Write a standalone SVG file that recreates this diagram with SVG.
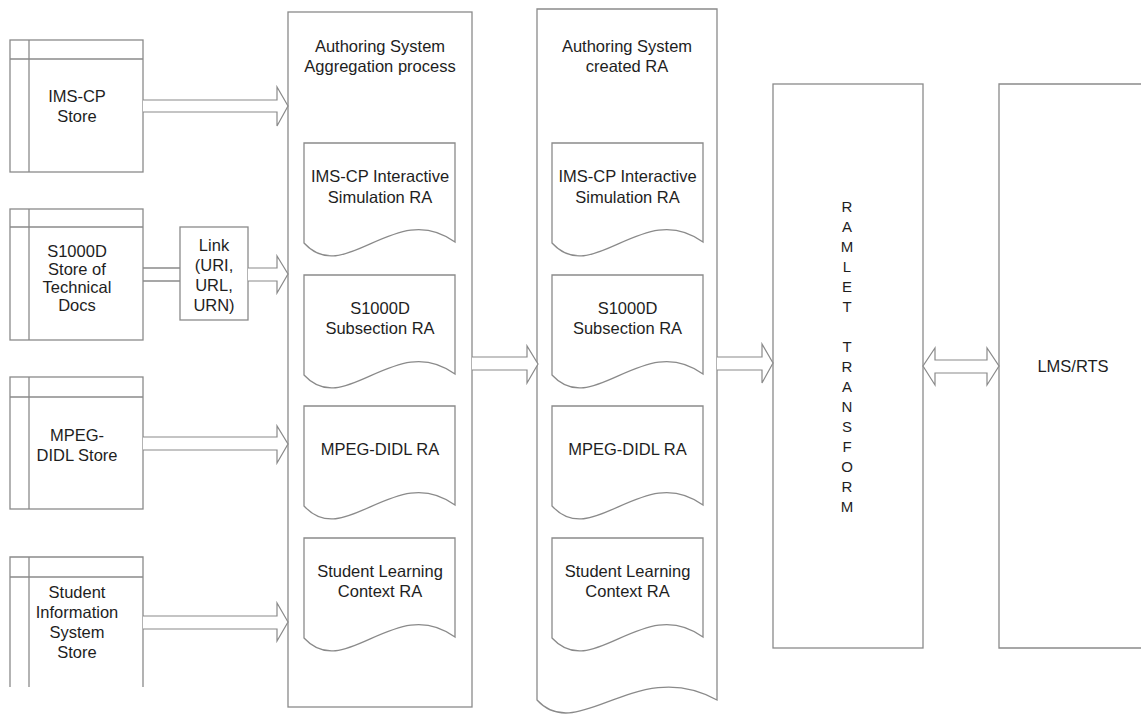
<svg xmlns="http://www.w3.org/2000/svg" width="1143" height="714" viewBox="0 0 1143 714">
<style>
.s{fill:#fff;stroke:#8a8a8a;stroke-width:1.3}
.l{fill:none;stroke:#8a8a8a;stroke-width:1.3}
.a{fill:#fff;stroke:#8a8a8a;stroke-width:1.2;stroke-linejoin:miter}
text{font-family:"Liberation Sans",Arial,sans-serif;font-size:16.5px;fill:#1e1e1e;text-anchor:middle}
.v{font-size:15px}
</style>
<rect width="1143" height="714" fill="#fff"/>

<g id="store-imscp">
<rect class="s" x="10" y="40" width="133" height="132"/>
<line class="l" x1="10" y1="59" x2="143" y2="59"/>
<line class="l" x1="29" y1="40" x2="29" y2="172"/>
<text x="77" y="102">IMS-CP</text>
<text x="77" y="122">Store</text>
</g>

<g id="store-s1000d">
<rect class="s" x="10" y="209" width="133" height="131"/>
<line class="l" x1="10" y1="227" x2="143" y2="227"/>
<line class="l" x1="29" y1="209" x2="29" y2="340"/>
<text x="77" y="257">S1000D</text>
<text x="77" y="275">Store of</text>
<text x="77" y="293">Technical</text>
<text x="77" y="311">Docs</text>
</g>

<g id="store-mpeg">
<rect class="s" x="10" y="377" width="133" height="132"/>
<line class="l" x1="10" y1="397" x2="143" y2="397"/>
<line class="l" x1="29" y1="377" x2="29" y2="509"/>
<text x="77" y="441">MPEG-</text>
<text x="77" y="461">DIDL Store</text>
</g>

<g id="store-student">
<path class="l" d="M10,687 V557 H143 V687"/>
<line class="l" x1="10" y1="577" x2="143" y2="577"/>
<line class="l" x1="29" y1="557" x2="29" y2="687"/>
<text x="77" y="598">Student</text>
<text x="77" y="618">Information</text>
<text x="77" y="638">System</text>
<text x="77" y="658">Store</text>
</g>

<g id="link">
<rect class="s" x="180" y="227" width="68" height="93"/>
<text x="214" y="251">Link</text>
<text x="214" y="271">(URI,</text>
<text x="214" y="291">URL,</text>
<text x="214" y="311">URN)</text>
</g>

<g id="aggregation">
<rect class="s" x="288" y="12" width="184" height="695"/>
<text x="380" y="52">Authoring System</text>
<text x="380" y="72">Aggregation process</text>
<g id="agg-doc1">
<path class="s" d="M455,242 V143 H304 V243 C345,288 395,198 455,242 Z"/>
<text x="380" y="182">IMS-CP Interactive</text>
<text x="380" y="203">Simulation RA</text>
</g>
<g id="agg-doc2">
<path class="s" d="M455,374 V275 H304 V375 C345,420 395,330 455,374 Z"/>
<text x="380" y="314">S1000D</text>
<text x="380" y="334">Subsection RA</text>
</g>
<g id="agg-doc3">
<path class="s" d="M455,505 V406 H304 V506 C345,551 395,461 455,505 Z"/>
<text x="380" y="455">MPEG-DIDL RA</text>
</g>
<g id="agg-doc4">
<path class="s" d="M455,637 V538 H304 V638 C345,683 395,593 455,637 Z"/>
<text x="380" y="577">Student Learning</text>
<text x="380" y="597">Context RA</text>
</g>
</g>

<g id="created">
<path class="s" d="M717,700 V9 H537 V700 C578,745 637,655 717,700 Z"/>
<text x="627" y="52">Authoring System</text>
<text x="627" y="72">created RA</text>
<g id="cr-doc1">
<path class="s" d="M703,242 V143 H552 V243 C593,288 643,198 703,242 Z"/>
<text x="627.5" y="182">IMS-CP Interactive</text>
<text x="627.5" y="203">Simulation RA</text>
</g>
<g id="cr-doc2">
<path class="s" d="M703,374 V275 H552 V375 C593,420 643,330 703,374 Z"/>
<text x="627.5" y="314">S1000D</text>
<text x="627.5" y="334">Subsection RA</text>
</g>
<g id="cr-doc3">
<path class="s" d="M703,505 V406 H552 V506 C593,551 643,461 703,505 Z"/>
<text x="627.5" y="455">MPEG-DIDL RA</text>
</g>
<g id="cr-doc4">
<path class="s" d="M703,637 V538 H552 V638 C593,683 643,593 703,637 Z"/>
<text x="627.5" y="577">Student Learning</text>
<text x="627.5" y="597">Context RA</text>
</g>
</g>

<g id="ramlet">
<rect class="s" x="773" y="84" width="150" height="564"/>
<text class="v" x="847" y="212">R</text>
<text class="v" x="847" y="232">A</text>
<text class="v" x="847" y="252">M</text>
<text class="v" x="847" y="272">L</text>
<text class="v" x="847" y="292">E</text>
<text class="v" x="847" y="312">T</text>
<text class="v" x="847" y="352">T</text>
<text class="v" x="847" y="372">R</text>
<text class="v" x="847" y="392">A</text>
<text class="v" x="847" y="412">N</text>
<text class="v" x="847" y="432">S</text>
<text class="v" x="847" y="452">F</text>
<text class="v" x="847" y="472">O</text>
<text class="v" x="847" y="492">R</text>
<text class="v" x="847" y="512">M</text>
</g>

<g id="lms">
<path class="s" d="M1141,84 H999 V648 H1141"/>
<text x="1073" y="372">LMS/RTS</text>
</g>

<g id="connectors">
<path class="a" d="M143,100 H277 V87 L288,106 L277,126 V112 H143"/>
<path class="l" d="M143,268 H180 M143,281 H180"/>
<path class="a" d="M248,268 H277 V256 L288,274 L277,293 V281 H248"/>
<path class="a" d="M143,437 H277 V426 L288,444 L277,463 V450 H143"/>
<path class="a" d="M143,616 H277 V603 L288,622 L277,641 V629 H143"/>
<path class="a" d="M472,357 H527 V346 L538,364 L527,383 V370 H472"/>
<path class="a" d="M717,357 H762 V344 L773,363 L762,383 V370 H717"/>
<path class="a" d="M935,360 H987 V348 L999,366 L987,385 V373 H935 V385 L923,366 L935,348 Z"/>
</g>
</svg>
